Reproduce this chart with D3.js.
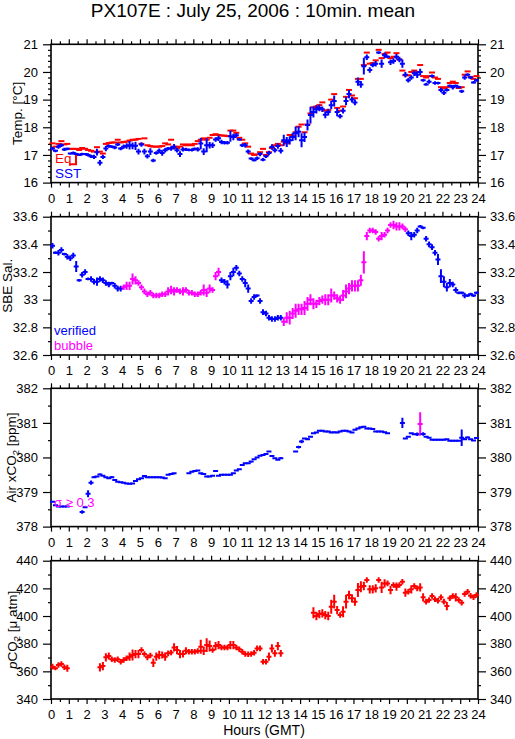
<!DOCTYPE html>
<html><head><meta charset="utf-8">
<script src="https://cdn.jsdelivr.net/npm/d3@7"></script>
<style>body{margin:0;background:#fff}svg{display:block}</style>
</head><body><svg id="c" width="515" height="739"></svg>
<script>
// ---------- data (10-minute means, index i -> hour (i+0.5)/6) ----------
const hourTicks = [0,1,2,3,4,5,6,7,8,9,10,11,12,13,14,15,16,17,18,19,20,21,22,23,24];
const tempTicks = [16,17,18,19,20,21];
const salTicks = [32.6,32.8,33,33.2,33.4,33.6];
const airTicks = [378,379,380,381,382];
const pco2Ticks = [340,360,380,400,420,440];

const sst = [
17.23,17.15,17.30,17.35,17.20,17.22,17.05,17.07,17.03,17.00,17.03,17.03,
17.00,16.95,16.93,17.10,16.72,16.93,17.23,17.32,17.30,17.27,17.38,17.23,
17.30,17.32,17.35,17.33,17.33,17.12,17.38,17.12,16.95,17.12,16.80,17.07,
17.15,17.07,17.17,17.23,17.23,17.30,17.17,17.03,17.20,17.20,17.18,17.18,
17.22,17.20,17.41,17.12,17.35,17.35,17.35,17.56,17.60,17.47,17.44,17.44,
17.68,17.65,17.71,17.56,17.35,17.35,17.12,16.87,16.81,16.88,17.03,16.83,
16.95,17.07,17.29,17.17,17.32,17.15,17.53,17.47,17.53,17.65,17.78,17.84,
17.53,17.65,18.08,18.44,18.55,18.65,18.70,18.65,18.45,18.55,18.80,18.95,
18.55,18.40,18.60,18.95,19.20,19.00,18.90,19.65,19.55,20.21,20.53,20.07,
20.25,20.30,20.70,20.30,20.60,20.55,20.35,20.40,20.55,20.45,20.30,19.90,
19.70,19.80,19.95,19.90,20.00,19.70,19.55,19.65,19.85,19.60,19.60,19.35,
19.25,19.35,19.50,19.45,19.50,19.45,19.30,19.80,19.90,19.80,19.62,19.70];
const sstErr = [
.06,.05,.08,.06,.06,.05,.04,.05,.05,.04,.05,.04,
.06,.06,.08,.12,.10,.08,.10,.06,.05,.06,.06,.06,
.08,.10,.15,.12,.15,.10,.08,.10,.08,.12,.06,.06,
.08,.10,.08,.06,.08,.10,.08,.10,.08,.06,.05,.06,
.05,.08,.20,.12,.25,.12,.10,.08,.10,.08,.06,.06,
.20,.12,.08,.05,.06,.08,.08,.05,.05,.06,.08,.06,
.06,.08,.10,.08,.10,.10,.20,.18,.15,.15,.25,.20,
.25,.18,.20,.30,.20,.15,.12,.10,.12,.12,.15,.20,
.15,.08,.10,.15,.15,.10,.10,.15,.12,.30,.10,.10,
.08,.10,.05,.15,.10,.05,.10,.10,.10,.10,.15,.10,
.08,.08,.10,.12,.12,.05,.05,.08,.06,.06,.05,.08,
.08,.06,.05,.08,.05,.05,.06,.08,.05,.05,.05,.05];
const eqTemp = [
17.42,17.30,17.40,17.50,17.38,17.40,17.22,17.22,17.22,17.18,17.25,17.22,
17.18,17.15,17.12,17.28,17.12,17.05,17.40,17.43,17.45,17.45,17.55,17.45,
17.47,17.48,17.52,17.55,17.55,17.58,17.40,17.60,17.35,17.32,17.30,17.30,
17.30,17.32,17.42,17.38,17.55,17.30,17.25,17.30,17.38,17.35,17.38,17.35,
17.40,17.50,17.55,17.60,17.55,17.62,17.72,17.75,17.72,17.70,17.70,17.68,
17.88,17.88,17.80,17.62,17.55,17.42,17.30,17.05,17.00,17.02,17.10,17.22,
17.00,17.10,17.25,17.35,17.40,17.35,17.48,17.42,17.72,17.70,17.82,18.02,
18.10,17.82,18.10,18.50,18.72,18.75,18.80,18.90,18.60,18.62,19.00,19.20,
18.70,18.60,18.75,19.10,19.35,19.15,19.05,19.75,19.75,20.25,20.70,20.30,
20.32,20.42,20.80,20.50,20.65,20.70,20.50,20.55,20.68,20.45,20.05,19.88,
19.88,20.00,20.05,20.00,20.25,19.85,19.80,19.85,19.98,19.80,19.75,19.45,
19.42,19.45,19.60,19.65,19.60,19.42,19.45,19.90,20.02,19.82,19.75,19.85];

const sal = [
33.39,33.34,33.34,33.36,33.33,33.31,33.30,33.32,33.24,33.14,33.18,33.20,
33.15,33.15,33.13,33.13,33.15,33.14,33.12,33.11,33.12,33.10,33.08,33.08,
33.09,33.10,33.10,33.15,33.14,33.12,33.09,33.06,33.04,33.05,33.03,33.03,
33.03,33.04,33.04,33.06,33.07,33.06,33.07,33.06,33.06,33.07,33.05,33.05,
33.04,33.04,33.05,33.07,33.05,33.08,33.07,33.17,33.20,33.14,33.13,33.11,
33.17,33.20,33.23,33.19,33.15,33.12,33.08,32.99,33.02,33.03,32.99,32.91,
32.90,32.87,32.86,32.86,32.87,32.87,32.84,32.87,32.87,32.90,32.92,32.93,
32.93,32.94,32.97,33.00,32.97,32.97,32.99,33.00,33.00,33.00,33.03,33.03,
33.01,33.00,33.03,33.06,33.08,33.10,33.10,33.10,33.14,33.27,33.46,33.50,
33.50,33.49,33.44,33.46,33.47,33.50,33.54,33.54,33.53,33.53,33.53,33.51,
33.48,33.46,33.47,33.50,33.53,33.52,33.44,33.40,33.38,33.34,33.29,33.17,
33.13,33.09,33.12,33.11,33.07,33.05,33.05,33.03,33.03,33.04,33.03,33.05];
const salErr = [
.02,.01,.02,.02,.01,.02,.02,.02,.04,.01,.02,.02,
.01,.02,.02,.03,.02,.02,.02,.02,.01,.02,.02,.02,
.02,.03,.03,.04,.03,.02,.02,.02,.02,.02,.02,.02,
.02,.02,.02,.03,.03,.03,.02,.02,.03,.02,.02,.02,
.02,.02,.02,.04,.03,.03,.02,.03,.03,.02,.02,.03,
.03,.03,.02,.02,.02,.03,.03,.02,.02,.01,.02,.02,
.02,.02,.02,.02,.02,.02,.03,.04,.05,.04,.05,.04,
.04,.05,.05,.04,.04,.03,.03,.03,.04,.04,.05,.03,
.03,.03,.04,.05,.04,.04,.04,.04,.04,.08,.03,.02,
.02,.02,.02,.03,.02,.02,.02,.03,.03,.03,.02,.02,
.02,.03,.02,.02,.01,.01,.02,.02,.02,.02,.04,.05,
.04,.03,.03,.02,.02,.01,.01,.02,.01,.01,.01,.01];
// 1 = bubble flagged, 0 = verified
const salBubble = [
0,0,0,0,0,0,0,0,0,0,0,0, 0,0,0,0,0,0,0,0,0,0,0,0,
1,1,1,1,1,1,1,1,1,1,1,1, 1,1,1,1,1,1,1,1,1,1,1,1,
1,1,1,1,1,1,1,1,1,0,0,0, 0,0,0,0,0,0,0,0,0,0,0,0,
0,0,0,0,0,0,1,1,1,1,1,1, 1,1,1,1,1,1,1,1,1,1,1,1,
1,1,1,1,1,1,1,1,1,1,1,1, 1,1,1,1,1,1,1,1,1,1,1,1,
0,0,0,0,0,0,0,0,0,0,0,0, 0,0,0,0,0,0,0,0,0,0,0,0];

const airCO2 = [
378.72,378.62,378.58,378.58,378.58,378.58,null,null,null,null,378.42,378.56,
378.95,379.27,379.43,379.45,379.51,379.47,379.43,379.40,379.43,379.35,379.30,379.28,
379.27,379.25,379.24,379.25,379.32,379.37,379.40,379.46,379.43,379.43,379.43,379.43,
379.43,379.42,379.40,379.50,379.52,379.54,null,null,null,null,379.54,379.59,
379.61,379.62,379.54,379.52,379.45,379.45,379.47,379.61,379.47,379.50,379.50,379.50,
379.50,379.54,379.62,379.66,379.78,379.83,379.83,379.88,379.95,380.00,380.05,380.07,
380.10,380.17,380.04,379.98,379.93,379.98,null,null,null,null,380.17,380.30,
380.46,380.55,380.53,380.60,380.70,380.72,380.77,380.77,380.75,380.75,380.72,380.73,
380.72,380.75,380.77,380.77,380.75,380.72,380.80,380.84,380.87,380.89,380.84,380.84,
380.82,380.75,380.75,380.75,380.73,380.70,null,null,null,null,381.00,380.55,
380.60,380.70,380.67,380.67,380.97,380.68,380.60,380.57,380.51,380.51,380.51,380.51,
380.51,380.53,380.48,380.48,380.48,380.48,380.57,380.53,380.58,380.53,380.49,380.56];
const airErr = [
.03,.02,.02,.02,.02,.02,0,0,0,0,.05,.03,
.10,.06,.03,.03,.03,.02,.02,.02,.03,.02,.02,.02,
.02,.02,.02,.02,.03,.02,.02,.03,.02,.02,.02,.02,
.02,.02,.02,.03,.03,.03,0,0,0,0,.02,.02,
.02,.02,.03,.03,.03,.03,.02,.03,.02,.02,.02,.02,
.02,.02,.02,.02,.03,.03,.02,.03,.03,.02,.02,.02,
.02,.03,.02,.02,.02,.03,0,0,0,0,.03,.04,
.05,.03,.03,.03,.03,.02,.02,.02,.02,.02,.02,.02,
.02,.02,.02,.02,.02,.02,.02,.02,.03,.02,.02,.02,
.02,.02,.02,.02,.02,.02,0,0,0,0,.15,.03,
.03,.03,.03,.05,.34,.05,.03,.02,.02,.02,.02,.02,
.02,.02,.02,.02,.02,.02,.24,.03,.03,.02,.02,.02];
// 1 = sigma > 0.3 flag
const airFlag = [
0,0,0,0,0,0,0,0,0,0,0,0, 0,0,0,0,0,0,0,0,0,0,0,0,
0,0,0,0,0,0,0,0,0,0,0,0, 0,0,0,0,0,0,0,0,0,0,0,0,
0,0,0,0,0,0,0,0,0,0,0,0, 0,0,0,0,0,0,0,0,0,0,0,0,
0,0,0,0,0,0,0,0,0,0,0,0, 0,0,0,0,0,0,0,0,0,0,0,0,
0,0,0,0,0,0,0,0,0,0,0,0, 0,0,0,0,0,0,0,0,0,0,0,0,
0,0,0,0,1,0,0,0,0,0,0,0, 0,0,0,0,0,0,0,0,0,0,0,0];

const pco2 = [
363.4,362.2,364.6,365.3,362.9,362.2,null,null,null,null,null,null,
null,null,null,null,362.9,363.8,370.1,371.1,368.7,368.2,368.7,367.0,
368.2,369.4,370.6,371.8,372.5,372.5,375.4,372.5,370.1,371.5,366.2,370.6,
371.8,371.8,370.6,373.0,373.7,377.3,375.4,372.5,372.5,374.9,374.2,374.2,
374.2,374.7,377.8,374.9,379.0,378.3,375.4,378.3,379.0,377.3,377.3,377.3,
379.0,379.0,377.3,375.9,374.2,372.5,372.3,372.5,373.5,376.6,376.6,367.0,
367.0,370.6,376.6,373.0,378.3,373.0,null,null,null,null,null,null,
null,null,null,null,402.4,400.0,401.4,401.9,400.7,400.0,406.7,410.4,
404.3,400.7,403.1,410.4,415.2,412.8,410.4,418.8,421.2,421.7,426.0,419.3,
419.3,420.0,426.0,420.7,423.6,423.6,418.8,422.4,421.2,422.4,424.8,416.9,
417.6,419.3,421.7,420.0,420.7,413.5,410.4,411.6,414.5,412.1,411.1,413.5,
410.4,407.2,412.8,414.5,413.5,411.6,409.6,415.9,417.6,414.7,413.5,415.2];
const pco2Err = [
2,1.5,2,2,2,2.5,0,0,0,0,0,0,
0,0,0,0,3,3,3,2.5,2,2,2,2,
2,2,3,4,3,3,2,2,2,2,3,3,
3,2.5,3,2,2,3,3,3,2.5,2.5,2,2,
2,2,5,3,5,4,2,3,3,2,2,2,
3,3,2,2,2,2,2,2,2,2,2,2,
2,3,3,2.5,3,2.5,0,0,0,0,0,0,
0,0,0,0,4,3,3,3,3,3,5,5,
3,2,4,5,3,3,3,5,4,3,2,3,
3,3,2,4,3,2,3,2,3,2,2,3,
2,3,2,2,3,3,2,2,2,2,2,2,
2,3,2,2,3,2,2,2,2,2,2,2];

// ---------- layout ----------
const FONT = '"Liberation Sans", Arial, Helvetica, sans-serif';
const L = 51, R = 478, PH = 138.3;
const tops = [44.3, 216.7, 388.3, 560.7];
const BLUE = '#0000ff', RED = '#ff0000', MAG = '#ff00ff';
const svg = d3.select('#c').style('font-family', FONT);
const x = d3.scaleLinear().domain([0, 24]).range([L, R]);
const timeOf = i => (i + 0.5) / 6;

svg.append('text').attr('x', 253).attr('y', 17).attr('text-anchor', 'middle')
  .attr('font-size', 19).text('PX107E : July 25, 2006 : 10min. mean');

const halfHours = hourTicks.slice(0, -1).map(h => h + 0.5);

function minorList(ticks, n) {
  const out = [];
  for (let k = 0; k < ticks.length - 1; k++) {
    const a = ticks[k], b = ticks[k + 1];
    for (let j = 1; j < n; j++) out.push(a + (b - a) * j / n);
  }
  return out;
}
const fmt = v => String(+v.toFixed(1));

function panel(idx, ticks, nMinor, labelFn, labelX) {
  const top = tops[idx], bot = top + PH;
  const y = d3.scaleLinear().domain([ticks[0], ticks[ticks.length - 1]]).range([bot, top]);
  const g = svg.append('g');
  const minors = minorList(ticks, nMinor);
  const styleAxis = (sel) => {
    sel.select('.domain').remove();
    sel.selectAll('line').attr('stroke', '#000').attr('stroke-width', 1.2);
    sel.selectAll('text').attr('font-size', 13).attr('fill', '#000').attr('font-family', FONT);
  };
  g.append('g').attr('transform', `translate(${L},0)`)
    .call(d3.axisLeft(y).tickValues(ticks).tickSize(8).tickPadding(5).tickFormat(fmt)).call(styleAxis);
  g.append('g').attr('transform', `translate(${L},0)`)
    .call(d3.axisLeft(y).tickValues(minors).tickSize(3).tickFormat('')).call(styleAxis);
  g.append('g').attr('transform', `translate(${R},0)`)
    .call(d3.axisRight(y).tickValues(ticks).tickSize(8).tickPadding(4).tickFormat(fmt)).call(styleAxis);
  g.append('g').attr('transform', `translate(${R},0)`)
    .call(d3.axisRight(y).tickValues(minors).tickSize(3).tickFormat('')).call(styleAxis);
  g.append('g').attr('transform', `translate(0,${bot})`)
    .call(d3.axisBottom(x).tickValues(hourTicks).tickSize(5).tickPadding(6).tickFormat(d => d)).call(styleAxis);
  g.append('g').attr('transform', `translate(0,${bot})`)
    .call(d3.axisBottom(x).tickValues(halfHours).tickSize(3).tickFormat('')).call(styleAxis);
  g.append('g').attr('transform', `translate(0,${top})`)
    .call(d3.axisTop(x).tickValues(hourTicks).tickSize(5).tickFormat('')).call(styleAxis);
  g.append('g').attr('transform', `translate(0,${top})`)
    .call(d3.axisTop(x).tickValues(halfHours).tickSize(3).tickFormat('')).call(styleAxis);
  g.append('rect').attr('x', L).attr('y', top).attr('width', R - L).attr('height', PH)
    .attr('fill', 'none').attr('stroke', '#000').attr('stroke-width', 1.6);
  const t = g.append('text').attr('transform', `translate(${labelX},${top + PH / 2}) rotate(-90)`)
    .attr('text-anchor', 'middle').attr('font-size', 13.5);
  labelFn(t);
  return { g, y, top, bot };
}

function marks(p, vals, errs, colorFn, hw) {
  const pts = vals.map((v, i) => ({ v, e: errs[i] || 0, i })).filter(d => d.v != null);
  p.g.append('g').selectAll('path').data(pts).join('path')
    .attr('d', d => {
      const cx = x(timeOf(d.i)), cy = p.y(d.v);
      return `M${cx - hw},${cy}H${cx + hw}M${cx},${p.y(d.v - d.e)}V${p.y(d.v + d.e)}`;
    })
    .attr('fill', 'none').attr('stroke', d => colorFn(d.i)).attr('stroke-width', 2);
}

// Panel 1: temperature
const p1 = panel(0, tempTicks, 5, t => t.text('Temp. [°C]'), 22);
marks(p1, eqTemp, sstErr.map(() => 0), () => RED, 3);
marks(p1, sst, sstErr, () => BLUE, 2.5);
p1.g.append('text').attr('x', 55).attr('y', 163).attr('fill', RED).attr('font-size', 13.5).text('Eq');
p1.g.append('path').attr('d', 'M69,164.3H76V155').attr('fill', 'none').attr('stroke', RED).attr('stroke-width', 2);
p1.g.append('text').attr('x', 55).attr('y', 178).attr('fill', BLUE).attr('font-size', 13.5).text('SST');

// Panel 2: salinity
const p2 = panel(1, salTicks, 2, t => t.text('SBE Sal.'), 11.5);
marks(p2, sal, salErr, i => salBubble[i] ? MAG : BLUE, 2.5);
p2.g.append('text').attr('x', 54).attr('y', 334.5).attr('fill', BLUE).attr('font-size', 13).text('verified');
p2.g.append('text').attr('x', 54).attr('y', 349.5).attr('fill', MAG).attr('font-size', 13).text('bubble');

// Panel 3: air xCO2
const p3 = panel(2, airTicks, 2, t => {
  t.append('tspan').text('Air xCO');
  t.append('tspan').attr('font-size', 9.5).attr('dy', 3).text('2');
  t.append('tspan').attr('dy', -3).text(' [ppm]');
}, 16);
marks(p3, airCO2, airErr, i => airFlag[i] ? MAG : BLUE, 2.5);
p3.g.append('text').attr('x', 54).attr('y', 507).attr('fill', MAG).attr('font-size', 13).text('σ ≥ 0.3');

// Panel 4: pCO2
const p4 = panel(3, pco2Ticks, 2, t => {
  t.append('tspan').attr('font-style', 'italic').text('p');
  t.append('tspan').text('CO');
  t.append('tspan').attr('font-size', 9.5).attr('dy', 3).text('2');
  t.append('tspan').attr('dy', -3).text(' [μ atm]');
}, 17);
marks(p4, pco2, pco2Err, () => RED, 2.5);

svg.append('text').attr('x', 264).attr('y', 735).attr('text-anchor', 'middle')
  .attr('font-size', 14).text('Hours (GMT)');
</script></body></html>
